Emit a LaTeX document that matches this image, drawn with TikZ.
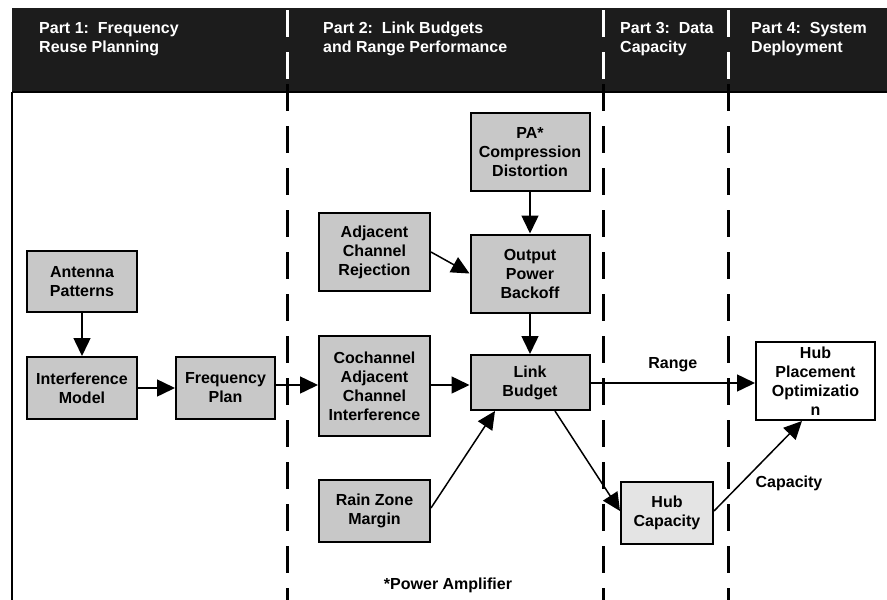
\documentclass[tikz,border=0pt]{standalone}
\usepackage{fontspec}
\setmainfont{Liberation Sans}
\usetikzlibrary{arrows.meta}
\definecolor{boxgray}{RGB}{200,200,200}
\definecolor{lightgray2}{RGB}{228,228,228}
\definecolor{headblack}{RGB}{28,28,28}
\tikzset{
  every node/.style={font=\bfseries\fontsize{16}{19}\selectfont, inner sep=0pt},
  blk/.style={draw=black, line width=2pt, fill=boxgray, align=center},
  conn/.style={line width=1.5pt, -{Triangle[length=18pt,width=17pt]}},
  sep/.style={line width=3pt, dash pattern=on 27pt off 15pt},
  headtxt/.style={text=white, align=left, anchor=north west},
  lbl/.style={font=\bfseries\fontsize{16}{19}\selectfont}
}
\begin{document}
\begin{tikzpicture}[x=1pt,y=-1pt]
\useasboundingbox (0,0) rectangle (887,600);
% header
\fill[headblack] (12,8) rectangle (887,92);
\draw[line width=2pt] (12,92) -- (887,92);
\draw[line width=2pt] (12,92) -- (12,600);
% separators
\foreach \xx in {287,603,728}{
  \draw[sep, white] (\xx,10) -- (\xx,80);
  \draw[sep, black] (\xx,84) -- (\xx,600);
}
% header texts
\node[headtxt] (h1) at (39,22) {Part 1:\ \ Frequency\\Reuse Planning};
\node[headtxt] (h2) at (323,22) {Part 2:\ \ Link Budgets\\and Range Performance};
\node[headtxt] (h3) at (620,22) {Part 3:\ \ Data\\Capacity};
\node[headtxt] (h4) at (751,22) {Part 4:\ \ System\\Deployment};
% boxes
\node[blk, minimum width=110pt, minimum height=61pt] (ant) at (82,281.5) {Antenna\\Patterns};
\node[blk, minimum width=110pt, minimum height=62pt] (intf) at (82,388) {Interference\\Model};
\node[blk, minimum width=99pt, minimum height=62pt] (freq) at (225.5,388) {Frequency\\Plan};
\node[blk, minimum width=111pt, minimum height=78pt] (acr) at (374.5,252) {Adjacent\\Channel\\Rejection};
\node[blk, minimum width=119pt, minimum height=78pt] (pa) at (530,152) {PA*\\Compression\\Distortion};
\node[blk, minimum width=119pt, minimum height=78pt] (opb) at (530,273.5) {Output\\Power\\Backoff};
\node[blk, minimum width=111pt, minimum height=100pt] (coch) at (374.5,386) {Cochannel\\Adjacent\\Channel\\Interference};
\node[blk, minimum width=119pt, minimum height=55pt] (lb) at (530,382.5) {Link\\Budget};
\node[blk, minimum width=111pt, minimum height=62pt] (rain) at (374.5,511) {Rain Zone\\Margin};
\node[blk, fill=lightgray2, minimum width=92pt, minimum height=62pt] (hubc) at (667,513) {Hub\\Capacity};
\node[blk, fill=white, minimum width=119pt, minimum height=78pt] (hpo) at (815.5,381) {Hub\\Placement\\Optimizatio\\n};
% connectors
\draw[conn] (ant) -- (intf);
\draw[conn] (intf) -- (freq);
\draw[conn] (freq.east |- 0,385) -- (coch.west |- 0,385);
\draw[conn] (coch.east |- 0,385) -- (lb.west |- 0,385);
\draw[conn] (acr.east) -- (opb.west);
\draw[conn] (pa) -- (opb);
\draw[conn] (opb) -- (lb);
\draw[conn] (rain.east |- 0,508) -- (lb.south -| 495,0);
\draw[conn] (lb.east |- 0,383) -- node[above=10pt] (rng) {Range} (hpo.west |- 0,383);
\draw[conn] (lb.south -| 555,0) -- (hubc.west |- 0,511);
\draw[conn] (hubc.east |- 0,511) -- (hpo.south -| 802,0);
\node (cap) at (789,483) {Capacity};
\node (pamp) at (448,585) {*Power Amplifier};
\end{tikzpicture}
\end{document}
